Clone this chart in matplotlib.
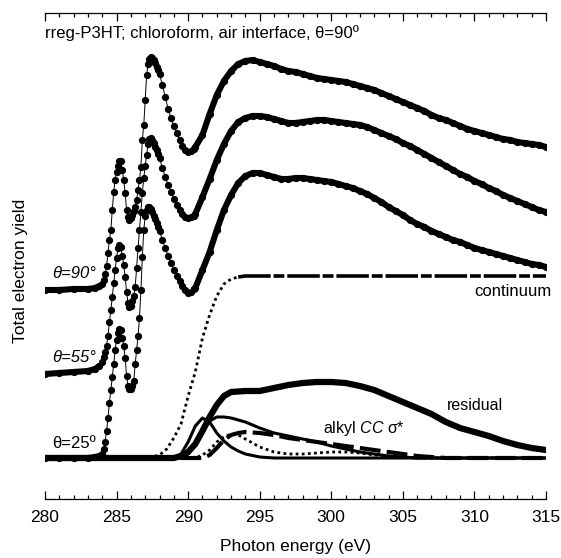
import numpy as np
import matplotlib
matplotlib.use('Agg')
import matplotlib.pyplot as plt
from matplotlib import font_manager

# font: narrow sans if it is there
names = {f.name for f in font_manager.fontManager.ttflist}
if 'Liberation Sans Narrow' in names:
    fam = 'Liberation Sans Narrow'
    fs = 15
else:
    fam = 'Liberation Sans'
    fs = 12.5
plt.rcParams['font.family'] = [fam, 'DejaVu Sans']
plt.rcParams['mathtext.fontset'] = 'custom'
plt.rcParams['mathtext.rm'] = fam
plt.rcParams['mathtext.it'] = fam + ':italic'

# photon energy grid of the spectra (eV)
energy = np.concatenate([[280, 281, 282, 283, 283.5, 283.8],
                         np.round(np.arange(284.0, 288.01, 0.1), 1),
                         np.round(np.arange(288.2, 290.41, 0.2), 1),
                         np.arange(290.5, 315.01, 0.5)])

# total electron yield (a.u.), each above its own pre-edge
tey_90 = [0, 0, 1, 1, 2, 4,
          6, 10, 16, 24, 37, 50, 60, 80, 98, 110, 118, 124, 129, 129, 120, 110, 97, 80, 73, 70,
          72, 75, 79, 83, 90, 100, 110, 123, 150, 165, 190, 215, 226, 231, 233, 232, 230, 227,
          223, 220, 216,
          205, 193, 181, 172, 164, 157, 150, 144, 140, 138, 139, 141,
          143, 155, 176, 195, 209, 219, 226, 229, 230, 228, 226, 224, 221, 219, 218, 216, 214,
          212, 211, 210, 209, 208, 206, 204, 202, 200, 197, 194, 191, 188, 185, 182, 179, 175,
          172, 170, 167, 164, 161, 159, 157, 155, 153, 151, 150, 148, 147, 146, 145, 143]
tey_55 = [1, 2, 3, 4, 6, 9,
          13, 18, 23, 29, 39, 53, 65, 78, 92, 105, 117, 127, 130, 128, 119, 110, 98, 83, 72, 68,
          69, 74, 79, 88, 107, 127, 145, 163, 182, 197, 209, 220, 231, 236, 237, 235, 232, 228,
          225, 221, 217,
          207, 198, 190, 183, 176, 170, 165, 161, 158, 157, 158, 159,
          161, 178, 196, 215, 231, 244, 253, 257, 259, 259, 258, 256, 254, 252, 252, 253, 254,
          255, 255, 254, 253, 252, 251, 250, 248, 245, 242, 239, 236, 232, 229, 225, 221, 217,
          213, 209, 205, 201, 198, 194, 191, 187, 184, 180, 177, 174, 171, 168, 165, 163]
tey_25 = [0, 0, 0, 0, 1, 2,
          4, 9, 16, 27, 40, 55, 68, 81, 94, 108, 118, 125, 129, 128, 120, 112, 100, 82, 72, 69,
          69, 72, 77, 94, 108, 122, 140, 168, 201, 228, 242, 248, 251, 251, 249, 246, 242, 239,
          235, 231, 227,
          218, 210, 202, 195, 188, 182, 177, 172, 168, 165, 166, 169,
          170, 188, 206, 228, 248, 263, 275, 282, 285, 285, 283, 281, 279, 279, 280, 280, 279,
          278, 277, 276, 274, 272, 270, 267, 264, 260, 256, 251, 247, 243, 238, 234, 231, 227,
          224, 221, 218, 216, 213, 210, 208, 206, 204, 202, 200, 198, 196, 194, 193, 191]
offsets = [168, 83, 0]
angle_labels = ['θ=90°', 'θ=55°', 'θ=25º']

# step edge (continuum)
cont_e = [280, 287, 287.5, 288, 288.5, 289, 289.5, 290, 290.5, 291, 291.5, 292, 292.5, 293,
          293.5, 294, 315]
cont_y = [0, 0, 1, 3, 9, 20, 34, 62, 86, 120, 143, 162, 174, 179, 181, 182, 182]

# residual after fit
res_e = [280, 289, 289.5, 290, 290.5, 291, 291.5, 292, 292.5, 293, 294, 295, 296, 297, 298,
         299, 300, 301, 302, 303, 304, 305, 306, 307, 308, 309, 310, 311, 312, 313, 314, 315]
res_y = [0, 0, 2, 6, 14, 27, 41, 53, 62, 66, 67, 67, 70, 73, 75, 76, 76, 75, 72, 68, 62, 56,
         50, 44, 36, 30, 26, 22, 17, 13, 10, 8]

# sigma* fit components
comp_e = [280, 288.5, 289, 289.5, 290, 290.5, 291, 291.5, 292, 292.5, 293, 293.5, 294, 295,
          296, 297, 298, 299, 300, 301, 302, 303, 304, 305, 306, 307, 308, 315]
comp_1 = [0, 0, 0, 4, 16, 32, 40, 36, 25, 17, 11, 7, 4, 1, 0, 0, 0, 0, 0, 0, 0, 0, 0, 0, 0,
          0, 0, 0]
comp_2 = [0, 0, 0, 0, 4, 14, 25, 37, 41, 41, 40, 38, 36, 30, 25, 22, 19, 16, 12, 9, 6, 4, 2,
          1, 0, 0, 0, 0]
comp_alkyl = [0, 0, 0, 0, 0, 0, 0, 3, 10, 18, 23, 25, 26, 25, 23, 20, 18, 16, 14, 12, 10, 8,
              6, 4, 2, 1, 0, 0]
comp_4 = [0, 0, 0, 0, 0, 0, 3, 8, 16, 21, 24, 23, 19, 11, 6, 4, 4, 5, 6, 6, 5, 3, 2, 1, 0, 0,
          0, 0]

fig = plt.figure(figsize=(5.61, 5.58), dpi=100)
ax = fig.add_axes([45 / 561, 59 / 558, 501 / 561, 486 / 558])

# spectra: dots joined by a thin line, dense parts drawn heavy
smooth = (energy <= 283.8) | (energy >= 290.4)
for tey, off in zip([tey_90, tey_55, tey_25], offsets):
    y = np.array(tey, dtype=float) + off
    ax.plot(energy, y, color='k', lw=0.7, marker='o', ms=4.2, mec='k', mfc='k', zorder=3)
    ax.plot(energy, np.where(smooth, y, np.nan), color='k', lw=4.4, solid_capstyle='round',
            zorder=3)

# continuum step
cont_e = np.array(cont_e)
cont_y = np.array(cont_y, dtype=float)
ax.plot(cont_e, np.where(cont_e <= 294, cont_y, np.nan), color='k', lw=2,
        ls=(0, (1, 1.2)))
ax.plot(cont_e, np.where(cont_e >= 293.5, cont_y, np.nan), color='k', lw=2.6,
        ls=(0, (9, 0.8, 3, 0.8)))

# residual and components
ax.plot(res_e, res_y, color='k', lw=4.5, solid_capstyle='round', zorder=2)
ax.plot(comp_e, comp_1, color='k', lw=2.2)
ax.plot(comp_e, comp_2, color='k', lw=2.2)
ax.plot(comp_e, comp_alkyl, color='k', lw=3, ls=(0, (5, 1.5)))
ax.plot(comp_e, comp_4, color='k', lw=2, ls=(0, (1, 1.2)))

# labels inside the plot
ax.text(280.0, 425, 'rreg-P3HT; chloroform, air interface, θ=90º', fontsize=fs - 0.5,
        ha='left', va='center')
for lab, yy, st in zip(angle_labels, [184, 101, 15], ['italic', 'italic', 'normal']):
    ax.text(280.5, yy, lab, fontsize=fs - 0.5, style=st, ha='left', va='center')
ax.text(315.35, 167, 'continuum', fontsize=fs - 0.5, ha='right', va='center')
ax.text(308.1, 53, 'residual', fontsize=fs - 1, ha='left', va='center')
ax.text(299.4, 30, r'alkyl $\mathit{CC}$ σ*', fontsize=fs - 1, ha='left', va='center')

ax.set_xlim(280, 315)
ax.set_ylim(-41, 445)
ax.set_xticks(np.arange(280, 316, 5))
ax.set_xticks(np.arange(280, 316, 1), minor=True)
ax.set_yticks([])
for s in ['left', 'right']:
    ax.spines[s].set_visible(False)
for s in ['top', 'bottom']:
    ax.spines[s].set_linewidth(0.9)
ax.tick_params(which='both', direction='in', top=True, bottom=True, left=False, right=False,
               width=0.9, labelsize=fs, pad=8)
ax.tick_params(which='major', length=5.5)
ax.tick_params(which='minor', length=3)
ax.set_xlabel('Photon energy (eV)', fontsize=fs, labelpad=10)
ax.set_ylabel('Total electron yield', fontsize=fs)
ax.yaxis.set_label_coords(-0.034, 0.47)

fig.savefig('out.png', dpi=100)
